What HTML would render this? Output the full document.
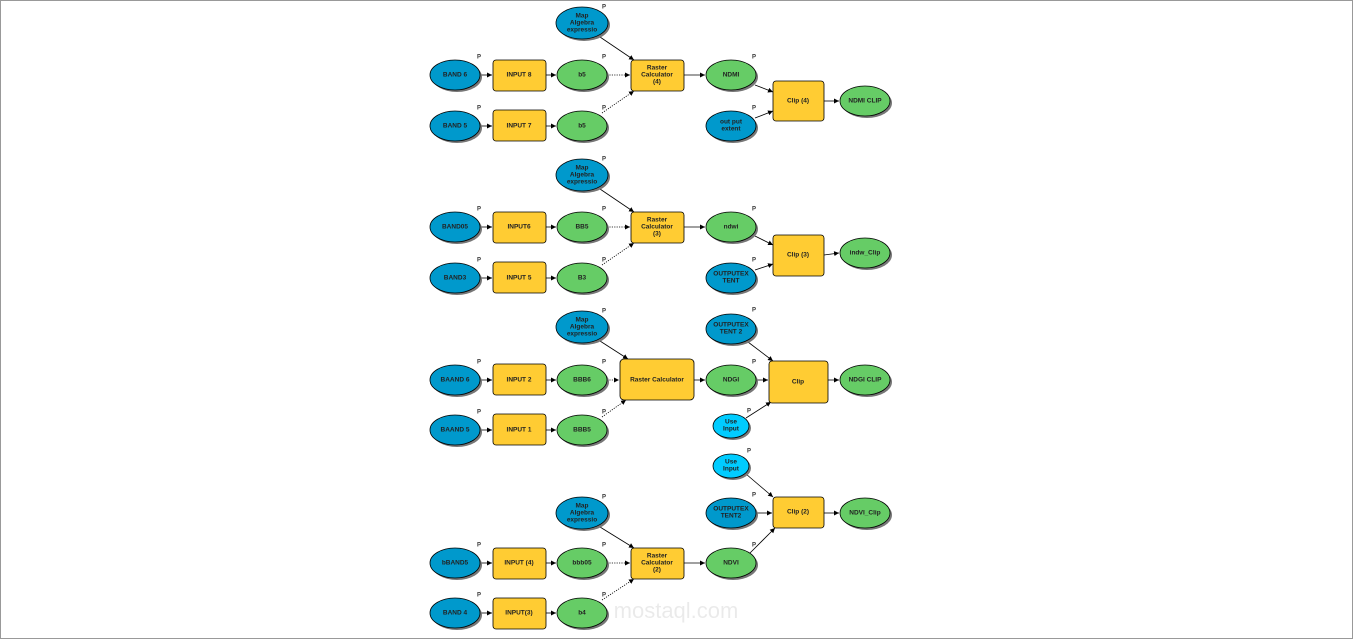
<!DOCTYPE html>
<html><head><meta charset="utf-8"><style>
html,body{margin:0;padding:0;background:#fff;}
svg{display:block}
text{font-family:"Liberation Sans",Arial,sans-serif;font-weight:bold;font-size:6.5px;fill:#222;text-anchor:middle;dominant-baseline:middle}
.p{font-size:6px;fill:#333}
.b{fill:#0099cc;stroke:#000;stroke-width:0.8}
.c{fill:#00ccff;stroke:#000;stroke-width:0.8}
.g{fill:#66cc66;stroke:#000;stroke-width:0.8}
.y{fill:#ffcc33;stroke:#000;stroke-width:0.8}
.s{fill:#777}
.l{stroke:#000;stroke-width:0.8;fill:none;marker-end:url(#a)}
.d{stroke:#000;stroke-width:0.8;fill:none;stroke-dasharray:1.2 1.2;marker-end:url(#a)}
</style></head><body>
<svg width="1353" height="639" viewBox="0 0 1353 639">
<defs><marker id="a" markerWidth="6" markerHeight="6" refX="5" refY="3" orient="auto" markerUnits="userSpaceOnUse"><path d="M0,0.5 L5,3 L0,5.5z" fill="#000"/></marker></defs>
<rect x="0.5" y="0.5" width="1352" height="638" fill="#fff" stroke="#999"/>

<!-- Section 1 -->
<line class="l" x1="480" y1="75" x2="492" y2="75"/><line class="l" x1="546" y1="75" x2="556" y2="75"/>
<line class="d" x1="607" y1="75" x2="630" y2="75"/>
<line class="l" x1="480" y1="126" x2="492" y2="126"/><line class="l" x1="546" y1="126" x2="556" y2="126"/>
<line class="d" x1="602" y1="113" x2="634" y2="91"/>
<line class="l" x1="600" y1="37" x2="634" y2="60"/>
<line class="l" x1="684" y1="75" x2="705" y2="75"/>
<line class="l" x1="755" y1="85" x2="773" y2="92"/><line class="l" x1="755" y1="118" x2="773" y2="111"/>
<line class="l" x1="824" y1="101" x2="839" y2="101"/>
<g>
<ellipse class="s" cx="584" cy="25" rx="26" ry="16"/><ellipse class="b" cx="582" cy="23" rx="26" ry="16"/><text x="582" y="16">Map</text><text x="582" y="23">Algebra</text><text x="582" y="30">expressio</text><text class="p" x="604" y="7">P</text>
<ellipse class="s" cx="457" cy="77" rx="25" ry="15"/><ellipse class="b" cx="455" cy="75" rx="25" ry="15"/><text x="455" y="75">BAND 6</text><text class="p" x="479" y="57">P</text>
<rect class="y" x="493" y="60" width="53" height="31" rx="3"/><text x="519" y="75">INPUT 8</text>
<ellipse class="s" cx="584" cy="77" rx="25" ry="15"/><ellipse class="g" cx="582" cy="75" rx="25" ry="15"/><text x="582" y="75">b5</text><text class="p" x="604" y="57">P</text>
<ellipse class="s" cx="457" cy="128" rx="25" ry="15"/><ellipse class="b" cx="455" cy="126" rx="25" ry="15"/><text x="455" y="126">BAND 5</text><text class="p" x="479" y="108">P</text>
<rect class="y" x="493" y="110" width="53" height="31" rx="3"/><text x="519" y="126">INPUT 7</text>
<ellipse class="s" cx="584" cy="128" rx="25" ry="15"/><ellipse class="g" cx="582" cy="126" rx="25" ry="15"/><text x="582" y="126">b5</text><text class="p" x="604" y="108">P</text>
<rect class="y" x="631" y="60" width="53" height="31" rx="3"/><text x="657" y="68">Raster</text><text x="657" y="75">Calculator</text><text x="657" y="82">(4)</text>
<ellipse class="s" cx="733" cy="77" rx="25" ry="15"/><ellipse class="g" cx="731" cy="75" rx="25" ry="15"/><text x="731" y="75">NDMI</text><text class="p" x="754" y="57">P</text>
<ellipse class="s" cx="733" cy="128" rx="25" ry="15"/><ellipse class="b" cx="731" cy="126" rx="25" ry="15"/><text x="731" y="122">out put</text><text x="731" y="129">extent</text><text class="p" x="754" y="108">P</text>
<rect class="y" x="773" y="81" width="51" height="40" rx="3"/><text x="798" y="101">Clip (4)</text>
<ellipse class="s" cx="867" cy="103" rx="25" ry="15"/><ellipse class="g" cx="865" cy="101" rx="25" ry="15"/><text x="865" y="101">NDMI CLIP</text>
</g>

<!-- Section 2 -->
<line class="l" x1="480" y1="227" x2="492" y2="227"/><line class="l" x1="546" y1="227" x2="556" y2="227"/>
<line class="d" x1="607" y1="227" x2="630" y2="227"/>
<line class="l" x1="480" y1="278" x2="492" y2="278"/><line class="l" x1="546" y1="278" x2="556" y2="278"/>
<line class="d" x1="602" y1="265" x2="634" y2="243"/>
<line class="l" x1="600" y1="189" x2="634" y2="212"/>
<line class="l" x1="684" y1="227" x2="705" y2="227"/>
<line class="l" x1="755" y1="236" x2="773" y2="245"/><line class="l" x1="755" y1="270" x2="773" y2="264"/>
<line class="l" x1="824" y1="255" x2="839" y2="253"/>
<g>
<ellipse class="s" cx="584" cy="177" rx="26" ry="16"/><ellipse class="b" cx="582" cy="175" rx="26" ry="16"/><text x="582" y="168">Map</text><text x="582" y="175">Algebra</text><text x="582" y="182">expressio</text><text class="p" x="604" y="159">P</text>
<ellipse class="s" cx="457" cy="229" rx="25" ry="15"/><ellipse class="b" cx="455" cy="227" rx="25" ry="15"/><text x="455" y="227">BAND05</text><text class="p" x="479" y="209">P</text>
<rect class="y" x="493" y="212" width="53" height="31" rx="3"/><text x="519" y="227">INPUT6</text>
<ellipse class="s" cx="584" cy="229" rx="25" ry="15"/><ellipse class="g" cx="582" cy="227" rx="25" ry="15"/><text x="582" y="227">BB5</text><text class="p" x="604" y="209">P</text>
<ellipse class="s" cx="457" cy="280" rx="25" ry="15"/><ellipse class="b" cx="455" cy="278" rx="25" ry="15"/><text x="455" y="278">BAND3</text><text class="p" x="479" y="260">P</text>
<rect class="y" x="493" y="262" width="53" height="31" rx="3"/><text x="519" y="278">INPUT 5</text>
<ellipse class="s" cx="584" cy="280" rx="25" ry="15"/><ellipse class="g" cx="582" cy="278" rx="25" ry="15"/><text x="582" y="278">B3</text><text class="p" x="604" y="260">P</text>
<rect class="y" x="631" y="212" width="53" height="31" rx="3"/><text x="657" y="220">Raster</text><text x="657" y="227">Calculator</text><text x="657" y="234">(3)</text>
<ellipse class="s" cx="733" cy="229" rx="25" ry="15"/><ellipse class="g" cx="731" cy="227" rx="25" ry="15"/><text x="731" y="227">ndwi</text><text class="p" x="754" y="209">P</text>
<ellipse class="s" cx="733" cy="280" rx="25" ry="15"/><ellipse class="b" cx="731" cy="278" rx="25" ry="15"/><text x="731" y="274">OUTPUTEX</text><text x="731" y="281">TENT</text><text class="p" x="754" y="260">P</text>
<rect class="y" x="773" y="235" width="51" height="41" rx="3"/><text x="798" y="255">Clip (3)</text>
<ellipse class="s" cx="867" cy="255" rx="25" ry="15"/><ellipse class="g" cx="865" cy="253" rx="25" ry="15"/><text x="865" y="253">indw_Clip</text>
</g>

<!-- Section 3 -->
<line class="l" x1="480" y1="380" x2="492" y2="380"/><line class="l" x1="546" y1="380" x2="556" y2="380"/>
<line class="d" x1="607" y1="380" x2="619" y2="380"/>
<line class="l" x1="480" y1="430" x2="492" y2="430"/><line class="l" x1="546" y1="430" x2="556" y2="430"/>
<line class="d" x1="602" y1="417" x2="626" y2="400"/>
<line class="l" x1="600" y1="341" x2="628" y2="359"/>
<line class="l" x1="694" y1="380" x2="705" y2="380"/>
<line class="l" x1="748" y1="342" x2="773" y2="361"/><line class="l" x1="756" y1="380" x2="768" y2="380"/><line class="l" x1="746" y1="418" x2="771" y2="402"/>
<line class="l" x1="828" y1="380" x2="839" y2="380"/>
<g>
<ellipse class="s" cx="584" cy="329" rx="26" ry="16"/><ellipse class="b" cx="582" cy="327" rx="26" ry="16"/><text x="582" y="320">Map</text><text x="582" y="327">Algebra</text><text x="582" y="334">expressio</text><text class="p" x="604" y="311">P</text>
<ellipse class="s" cx="457" cy="382" rx="25" ry="15"/><ellipse class="b" cx="455" cy="380" rx="25" ry="15"/><text x="455" y="380">BAAND 6</text><text class="p" x="479" y="362">P</text>
<rect class="y" x="493" y="364" width="53" height="31" rx="3"/><text x="519" y="380">INPUT 2</text>
<ellipse class="s" cx="584" cy="382" rx="25" ry="15"/><ellipse class="g" cx="582" cy="380" rx="25" ry="15"/><text x="582" y="380">BBB6</text><text class="p" x="604" y="362">P</text>
<ellipse class="s" cx="457" cy="432" rx="25" ry="15"/><ellipse class="b" cx="455" cy="430" rx="25" ry="15"/><text x="455" y="430">BAAND 5</text><text class="p" x="479" y="412">P</text>
<rect class="y" x="493" y="414" width="53" height="31" rx="3"/><text x="519" y="430">INPUT 1</text>
<ellipse class="s" cx="584" cy="432" rx="25" ry="15"/><ellipse class="g" cx="582" cy="430" rx="25" ry="15"/><text x="582" y="430">BBB5</text><text class="p" x="604" y="412">P</text>
<rect class="y" x="620" y="359" width="74" height="41" rx="4"/><text x="657" y="380">Raster Calculator</text>
<ellipse class="s" cx="733" cy="331" rx="25" ry="15"/><ellipse class="b" cx="731" cy="329" rx="25" ry="15"/><text x="731" y="325">OUTPUTEX</text><text x="731" y="332">TENT 2</text><text class="p" x="754" y="310">P</text>
<ellipse class="s" cx="733" cy="382" rx="25" ry="15"/><ellipse class="g" cx="731" cy="380" rx="25" ry="15"/><text x="731" y="380">NDGI</text><text class="p" x="754" y="362">P</text>
<ellipse class="s" cx="733" cy="428" rx="18" ry="12"/><ellipse class="c" cx="731" cy="426" rx="18" ry="12"/><text x="731" y="422">Use</text><text x="731" y="429">Input</text><text class="p" x="749" y="411">P</text>
<rect class="y" x="769" y="361" width="59" height="42" rx="3"/><text x="798" y="382">Clip</text>
<ellipse class="s" cx="867" cy="382" rx="25" ry="15"/><ellipse class="g" cx="865" cy="380" rx="25" ry="15"/><text x="865" y="380">NDGI CLIP</text>
</g>

<!-- Section 4 -->
<line class="l" x1="480" y1="563" x2="492" y2="563"/><line class="l" x1="546" y1="563" x2="556" y2="563"/>
<line class="d" x1="607" y1="563" x2="630" y2="563"/>
<line class="l" x1="480" y1="613" x2="492" y2="613"/><line class="l" x1="546" y1="613" x2="556" y2="613"/>
<line class="d" x1="602" y1="600" x2="634" y2="579"/>
<line class="l" x1="600" y1="527" x2="634" y2="548"/>
<line class="l" x1="684" y1="563" x2="705" y2="563"/>
<line class="l" x1="746" y1="474" x2="773" y2="497"/><line class="l" x1="756" y1="513" x2="772" y2="513"/><line class="l" x1="750" y1="553" x2="775" y2="528"/>
<line class="l" x1="824" y1="513" x2="839" y2="513"/>
<g>
<ellipse class="s" cx="584" cy="515" rx="26" ry="16"/><ellipse class="b" cx="582" cy="513" rx="26" ry="16"/><text x="582" y="506">Map</text><text x="582" y="513">Algebra</text><text x="582" y="520">expressio</text><text class="p" x="604" y="497">P</text>
<ellipse class="s" cx="457" cy="565" rx="25" ry="15"/><ellipse class="b" cx="455" cy="563" rx="25" ry="15"/><text x="455" y="563">bBAND5</text><text class="p" x="479" y="545">P</text>
<rect class="y" x="493" y="548" width="53" height="31" rx="3"/><text x="519" y="563">INPUT (4)</text>
<ellipse class="s" cx="584" cy="565" rx="25" ry="15"/><ellipse class="g" cx="582" cy="563" rx="25" ry="15"/><text x="582" y="563">bbb05</text><text class="p" x="604" y="545">P</text>
<ellipse class="s" cx="457" cy="615" rx="25" ry="15"/><ellipse class="b" cx="455" cy="613" rx="25" ry="15"/><text x="455" y="613">BAND 4</text><text class="p" x="479" y="595">P</text>
<rect class="y" x="493" y="598" width="53" height="31" rx="3"/><text x="519" y="613">INPUT(3)</text>
<ellipse class="s" cx="584" cy="615" rx="25" ry="15"/><ellipse class="g" cx="582" cy="613" rx="25" ry="15"/><text x="582" y="613">b4</text><text class="p" x="604" y="595">P</text>
<rect class="y" x="631" y="548" width="53" height="31" rx="3"/><text x="657" y="556">Raster</text><text x="657" y="563">Calculator</text><text x="657" y="570">(2)</text>
<ellipse class="s" cx="733" cy="468" rx="18" ry="12"/><ellipse class="c" cx="731" cy="466" rx="18" ry="12"/><text x="731" y="462">Use</text><text x="731" y="469">Input</text><text class="p" x="749" y="451">P</text>
<ellipse class="s" cx="733" cy="515" rx="25" ry="15"/><ellipse class="b" cx="731" cy="513" rx="25" ry="15"/><text x="731" y="509">OUTPUTEX</text><text x="731" y="516">TENT2</text><text class="p" x="754" y="495">P</text>
<ellipse class="s" cx="733" cy="565" rx="25" ry="15"/><ellipse class="g" cx="731" cy="563" rx="25" ry="15"/><text x="731" y="563">NDVI</text><text class="p" x="754" y="545">P</text>
<rect class="y" x="773" y="497" width="51" height="31" rx="3"/><text x="798" y="512">Clip (2)</text>
<ellipse class="s" cx="867" cy="515" rx="25" ry="15"/><ellipse class="g" cx="865" cy="513" rx="25" ry="15"/><text x="865" y="513">NDVI_Clip</text>
</g>
<text x="676" y="612" style="font-size:22px;fill:#000;opacity:0.08;font-weight:normal">mostaql.com</text>
</svg>
</body></html>
